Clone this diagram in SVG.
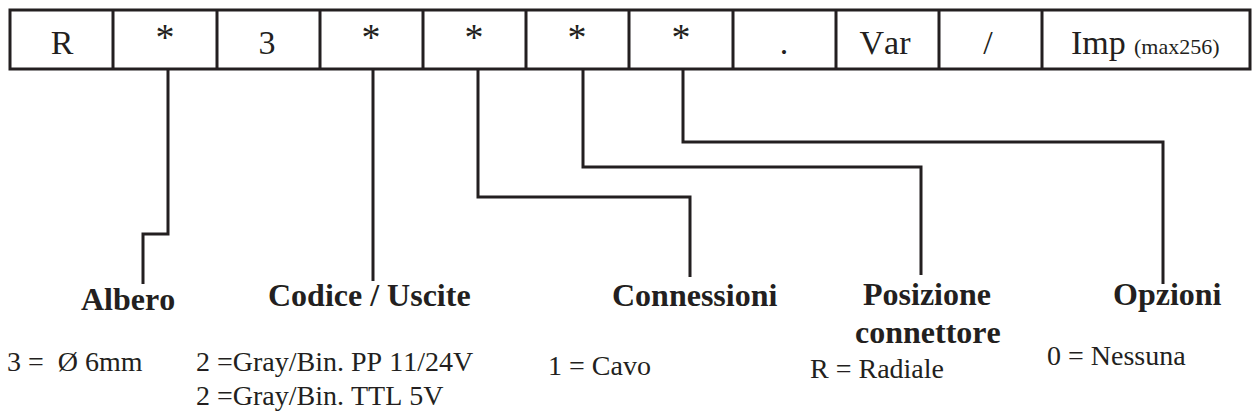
<svg xmlns="http://www.w3.org/2000/svg" width="1252" height="419" viewBox="0 0 1252 419">
<style>
.box{fill:#fff;stroke:#231f20;stroke-width:3}
.div{stroke:#231f20;stroke-width:3}
.con{fill:none;stroke:#231f20;stroke-width:3}
text{font-family:'Liberation Serif','Times New Roman',serif;fill:#231f20;white-space:pre;font-kerning:none}
.cell{font-size:34px}
.ast{font-size:38px}
.small{font-size:22px}
.lbl{font-size:32px;font-weight:bold}
.val{font-size:28px}
</style>
<g id="code-table">
<rect class="box" x="10" y="10" width="1240" height="59"/>
<path class="div" d="M113,10V69M217,10V69M320,10V69M423,10V69M526,10V69M629,10V69M733,10V69M836,10V69M939,10V69M1042,10V69"/>
<text class="cell" x="62" y="54" text-anchor="middle">R</text>
<text class="ast" x="165" y="50" text-anchor="middle">*</text>
<text class="cell" x="267" y="54" text-anchor="middle">3</text>
<text class="ast" x="371" y="50" text-anchor="middle">*</text>
<text class="ast" x="474" y="50" text-anchor="middle">*</text>
<text class="ast" x="577" y="50" text-anchor="middle">*</text>
<text class="ast" x="681" y="50" text-anchor="middle">*</text>
<text class="cell" x="784" y="54" text-anchor="middle">.</text>
<text class="cell" x="885" y="54" text-anchor="middle">Var</text>
<text class="cell" x="988" y="54" text-anchor="middle">/</text>
<text class="cell" x="1071" y="54">Imp</text>
<text class="small" x="1134" y="54">(max256)</text>
</g>
<g id="connectors">
<polyline class="con" points="168,69 168,234 143,234 143,284"/>
<polyline class="con" points="373,69 373,281"/>
<polyline class="con" points="478,69 478,197 690,197 690,277"/>
<polyline class="con" points="583,69 583,167 921,167 921,275"/>
<polyline class="con" points="683,69 683,142 1163,142 1163,284"/>
</g>
<g id="albero">
<text class="lbl" x="81" y="310">Albero</text>
<text class="val" x="7" y="371">3 =  Ø 6mm</text>
</g>
<g id="codice">
<text class="lbl" x="268" y="306">Codice / Uscite</text>
<text class="val" x="196" y="371">2 =Gray/Bin. PP 11/24V</text>
<text class="val" x="196" y="405">2 =Gray/Bin. TTL 5V</text>
</g>
<g id="connessioni">
<text class="lbl" x="612" y="306">Connessioni</text>
<text class="val" x="548" y="375">1 = Cavo</text>
</g>
<g id="posizione">
<text class="lbl" x="863" y="305">Posizione</text>
<text class="lbl" x="855" y="343">connettore</text>
<text class="val" x="810" y="378">R = Radiale</text>
</g>
<g id="opzioni">
<text class="lbl" x="1113" y="305">Opzioni</text>
<text class="val" x="1047" y="365">0 = Nessuna</text>
</g>
</svg>
